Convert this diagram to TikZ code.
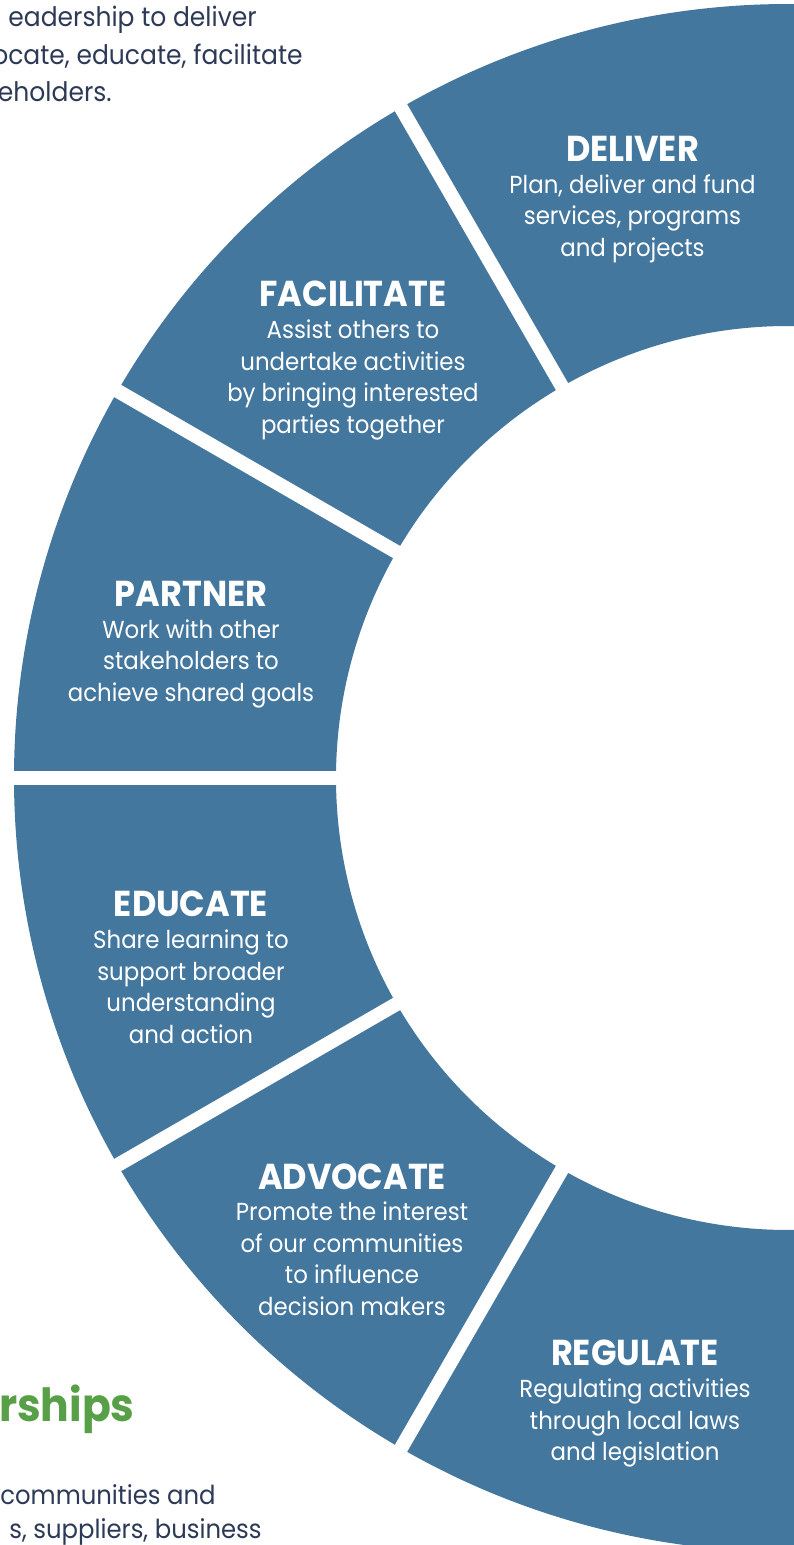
\documentclass[tikz,border=0pt]{standalone}
\usepackage{fontspec}
\setmainfont{Poppins}[FakeStretch=0.93]
\usepackage{tikz}
\definecolor{ringblue}{RGB}{68,119,158}
\definecolor{inkblue}{RGB}{44,57,87}
\definecolor{leafgreen}{RGB}{88,160,72}
\newcommand\sectitle[1]{{\fontsize{20.5}{18}\selectfont\bfseries #1}}

\begin{document}
\begin{tikzpicture}[x=0.02cm, y=0.02cm,
  sector/.style={fill=ringblue},
  gap/.style={draw=white, line width=8pt},
  role/.style={align=center, text=white, anchor=north, inner sep=0pt,
    font=\fontsize{14}{18}\selectfont},
  intro/.style={anchor=base east, inner sep=0pt, text=inkblue,
    font=\fontsize{15.3}{18}\selectfont}]
\useasboundingbox (-788,-767) rectangle (6,778);
\clip (-788,-767) rectangle (6,778);

% the ring, one slice per role
\foreach \a/\b in {60/120,120/150,150/180,180/210,210/240,240/300}
  \fill[sector] (\a:452) -- (\a:774) arc[start angle=\a, end angle=\b, radius=774]
    -- (\b:452) arc[start angle=\b, end angle=\a, radius=452] -- cycle;
% white cuts between slices
\foreach \a in {120,150,...,240}
  \draw[gap] (\a:430) -- (\a:800);

\node[role] (deliver) at (-155.5,642)
  {\sectitle{DELIVER}\\Plan, deliver and fund\\services, programs\\and projects};
\node[role] (facilitate) at (-435,497)
  {\sectitle{FACILITATE}\\Assist others to\\undertake activities\\by bringing interested\\parties together};
\node[role] (partner) at (-597,197)
  {\sectitle{PARTNER}\\Work with other\\stakeholders to\\achieve shared goals};
\node[role] (educate) at (-597,-113)
  {\sectitle{EDUCATE}\\Share learning to\\support broader\\understanding\\and action};
\node[role] (advocate) at (-436,-385)
  {\sectitle{ADVOCATE}\\Promote the interest\\of our communities\\to influence\\decision makers};
\node[role] (regulate) at (-153,-562)
  {\sectitle{REGULATE}\\Regulating activities\\through local laws\\and legislation};

% text running in from the left
\node[intro] (lead1) at (-531,751) {eadership to deliver};
\node[intro] (lead2) at (-485,713.5) {ocate, educate, facilitate};
\node[intro] (lead3) at (-676,676) {eholders.};
\node[intro, text=leafgreen, font=\fontsize{26}{28}\selectfont\bfseries] (partnerships) at (-653,-643) {rships};
\node[intro, font=\fontsize{14.9}{18}\selectfont] (comm1) at (-572,-726) {communities and};
\node[intro, font=\fontsize{14.9}{18}\selectfont] (comm2) at (-526,-760) {s, suppliers, business};
\end{tikzpicture}
\end{document}
